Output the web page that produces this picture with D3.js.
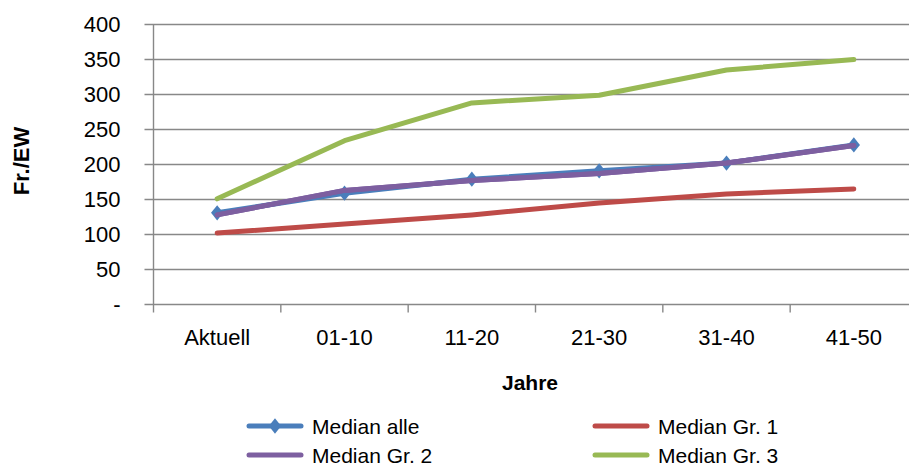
<!DOCTYPE html>
<html>
<head>
<meta charset="utf-8">
<script src="https://cdn.jsdelivr.net/npm/d3@7"></script>
<style>
  body { margin: 0; background: #fff; overflow: hidden; }
  text { font-family: "Liberation Sans", Arial, sans-serif; fill: #000; }
</style>
</head>
<body>
<div id="chart"></div>
<script>
// Kategorien und Werte
const categories = ["Aktuell", "01-10", "11-20", "21-30", "31-40", "41-50"];
const medianAlle = [131, 159, 179, 191, 202, 228];
const medianGr1 = [102, 115, 128, 145, 158, 165];
const medianGr2 = [128, 163, 177, 187, 202, 227];
const medianGr3 = [151, 234, 288, 299, 335, 350];
const yTicks = [0, 50, 100, 150, 200, 250, 300, 350, 400];

const series = [
  {name: "Median alle", values: medianAlle, color: "#4A7EBB", marker: true},
  {name: "Median Gr. 1", values: medianGr1, color: "#BE4B48", marker: false},
  {name: "Median Gr. 2", values: medianGr2, color: "#7D5FA0", marker: false},
  {name: "Median Gr. 3", values: medianGr3, color: "#98B954", marker: false}
];

const W = 909, H = 468;
const margin = {top: 24.5, left: 153.5};
const plotW = 764, plotH = 280;

const svg = d3.select("#chart")
  .append("svg")
    .attr("width", W)
    .attr("height", H);

const g = svg.append("g")
    .attr("transform", `translate(${margin.left}, ${margin.top})`);

// Achsen-Skalen
let x = d3.scaleBand()
  .domain(categories)
  .range([0, plotW]);

let y = d3.scaleLinear()
  .domain([0, 400])
  .range([plotH, 0]);

// Gitterlinien
g.append("g")
  .selectAll("line")
  .data(yTicks)
  .join("line")
    .attr("x1", -9)
    .attr("x2", plotW)
    .attr("y1", d => y(d))
    .attr("y2", d => y(d))
    .attr("stroke", "#888")
    .attr("stroke-width", 1.4);

// Y-Achse Beschriftung
g.append("g")
  .selectAll("text")
  .data(yTicks)
  .join("text")
    .attr("x", -33)
    .attr("y", d => y(d))
    .attr("dy", "0.36em")
    .attr("text-anchor", "end")
    .style("font-size", "22px")
    .text(d => d === 0 ? "-" : d);

// Y-Achse Linie
g.append("line")
  .attr("x1", 0).attr("x2", 0)
  .attr("y1", 0).attr("y2", plotH)
  .attr("stroke", "#888")
  .attr("stroke-width", 1.4);

// X-Achse Ticks
const xTickPos = categories.map(c => x(c)).concat([plotW]);
g.append("g")
  .selectAll("line")
  .data(xTickPos)
  .join("line")
    .attr("x1", d => d).attr("x2", d => d)
    .attr("y1", plotH).attr("y2", plotH + 8)
    .attr("stroke", "#888")
    .attr("stroke-width", 1.4);

g.append("g")
  .selectAll("text")
  .data(categories)
  .join("text")
    .attr("x", d => x(d) + x.bandwidth() / 2)
    .attr("y", plotH + 40)
    .attr("text-anchor", "middle")
    .style("font-size", "22px")
    .text(d => d);

// Achsentitel
svg.append("text")
  .attr("transform", "translate(29, 161) rotate(-90)")
  .attr("text-anchor", "middle")
  .style("font-size", "22px")
  .style("font-weight", "bold")
  .text("Fr./EW");

svg.append("text")
  .attr("x", 530)
  .attr("y", 390)
  .attr("text-anchor", "middle")
  .style("font-size", "21px")
  .style("font-weight", "bold")
  .text("Jahre");

// Linien
const line = d3.line()
  .x((d, i) => x(categories[i]) + x.bandwidth() / 2)
  .y(d => y(d));

const diamond = d3.symbol().type(d3.symbolDiamond2).size(150);

series.forEach(s => {
  g.append("path")
    .datum(s.values)
    .attr("fill", "none")
    .attr("stroke", s.color)
    .attr("stroke-width", 5)
    .attr("stroke-linecap", "round")
    .attr("stroke-linejoin", "round")
    .attr("d", line);
  if (s.marker) {
    g.selectAll(".pt")
      .data(s.values)
      .join("path")
        .attr("transform", (d, i) => `translate(${x(categories[i]) + x.bandwidth() / 2}, ${y(d)}) scale(0.8, 1)`)
        .attr("d", diamond)
        .attr("fill", s.color);
  }
});
// Gr. 2 über den Markern erneut zeichnen
g.append("path")
  .datum(medianGr2)
  .attr("fill", "none")
  .attr("stroke", "#7D5FA0")
  .attr("stroke-width", 5)
  .attr("stroke-linecap", "round")
  .attr("stroke-linejoin", "round")
  .attr("d", line);

// Legende
const legendPos = [
  {x: 247, y: 426}, {x: 593, y: 426},
  {x: 247, y: 455}, {x: 593, y: 455}
];
const legend = svg.append("g");
series.forEach((s, i) => {
  const p = legendPos[i];
  legend.append("line")
    .attr("x1", p.x + 2).attr("x2", p.x + 54)
    .attr("y1", p.y).attr("y2", p.y)
    .attr("stroke", s.color)
    .attr("stroke-width", 5)
    .attr("stroke-linecap", "round");
  if (s.marker) {
    legend.append("path")
      .attr("transform", `translate(${p.x + 28}, ${p.y}) scale(0.8, 1)`)
      .attr("d", diamond)
      .attr("fill", s.color);
  }
  legend.append("text")
    .attr("x", p.x + 65)
    .attr("y", p.y)
    .attr("dy", "0.36em")
    .style("font-size", "21px")
    .text(s.name);
});
</script>
</body>
</html>
